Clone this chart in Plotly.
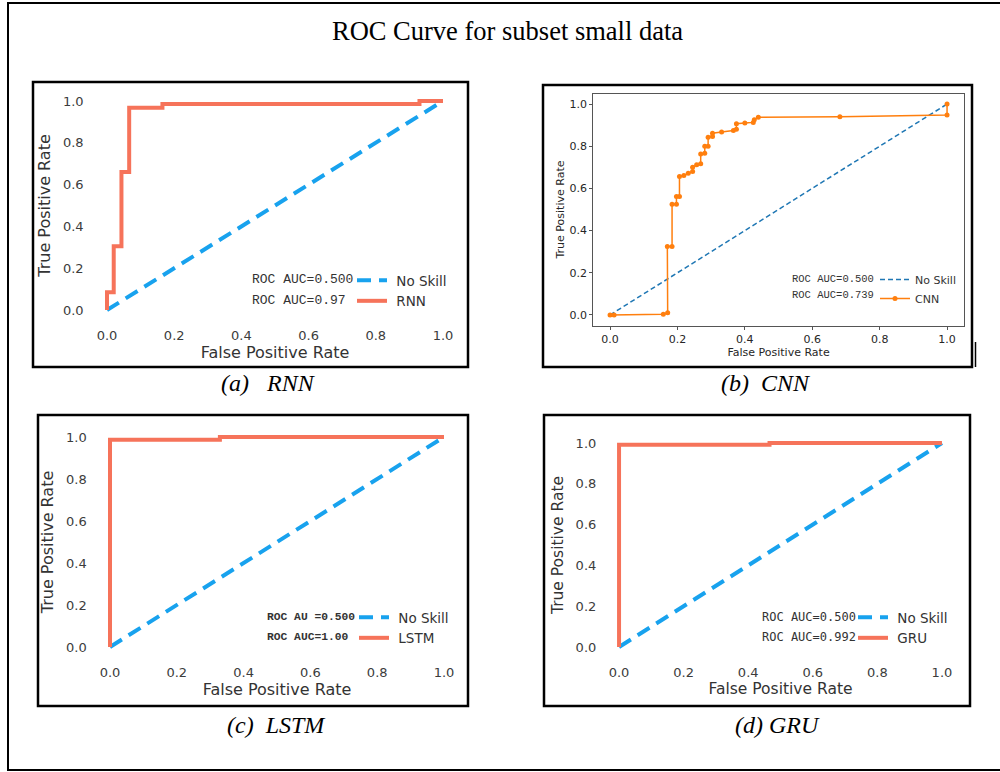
import plotly.graph_objects as go

# ---------------- data ----------------
noskill_fpr = [0.0, 1.0]
noskill_tpr = [0.0, 1.0]

rnn_fpr = [0.0, 0.0, 0.02, 0.02, 0.043, 0.043, 0.066, 0.066, 0.165, 0.165, 0.93, 0.93, 1.0]
rnn_tpr = [0.0, 0.085, 0.085, 0.305, 0.305, 0.66, 0.66, 0.968, 0.968, 0.985, 0.985, 1.0, 1.0]

cnn_fpr = [0.0, 0.012, 0.158, 0.171, 0.170, 0.184, 0.184, 0.197, 0.197, 0.206, 0.206, 0.219,
           0.232, 0.245, 0.245, 0.257, 0.269, 0.269, 0.281, 0.281, 0.291, 0.291, 0.304, 0.304,
           0.331, 0.366, 0.375, 0.375, 0.400, 0.425, 0.428, 0.440, 0.682, 1.0, 1.0]
cnn_tpr = [0.0, 0.0, 0.003, 0.011, 0.324, 0.324, 0.525, 0.525, 0.562, 0.562, 0.657, 0.661,
           0.672, 0.680, 0.700, 0.712, 0.717, 0.763, 0.767, 0.800, 0.800, 0.843, 0.846, 0.862,
           0.867, 0.875, 0.881, 0.907, 0.910, 0.913, 0.926, 0.937, 0.940, 0.948, 1.0]

lstm_fpr = [0.0, 0.0, 0.329, 0.329, 1.0]
lstm_tpr = [0.0, 0.987, 0.987, 1.0, 1.0]

gru_fpr = [0.0, 0.0, 0.466, 0.466, 1.0]
gru_tpr = [0.0, 0.992, 0.992, 1.0, 1.0]

tick_vals = [0.0, 0.2, 0.4, 0.6, 0.8, 1.0]
tick_text = ["0.0", "0.2", "0.4", "0.6", "0.8", "1.0"]

model_names = ["RNN", "CNN", "LSTM", "GRU"]
noskill_auc_labels = ["ROC AUC=0.500", "ROC AUC=0.500", "ROC AU =0.500", "ROC AUC=0.500"]
model_auc_labels = ["ROC AUC=0.97", "ROC AUC=0.739", "ROC AUC=1.00", "ROC AUC=0.992"]
captions = ["(a)\u00a0\u00a0\u00a0RNN", "(b)\u00a0\u00a0CNN", "(c)\u00a0\u00a0LSTM", "(d)\u00a0GRU"]
title_text = "ROC Curve for subset small data"

# ---------------- helpers ----------------
W, H = 1000, 772
def px(x):
    return x / W
def py(y):
    return 1 - y / H

SALMON = "#F6735A"
SKY = "#18A2EE"
SANS = "DejaVu Sans"
NB = "\u00a0"

fig = go.Figure()

# panel (a) RNN
fig.add_trace(go.Scatter(x=noskill_fpr, y=noskill_tpr, mode="lines", name=NB + "No Skill",
                         line=dict(color=SKY, width=4, dash="14px,8px"),
                         xaxis="x", yaxis="y", legend="legend"))
fig.add_trace(go.Scatter(x=rnn_fpr, y=rnn_tpr, mode="lines", name=NB + model_names[0],
                         line=dict(color=SALMON, width=4),
                         xaxis="x", yaxis="y", legend="legend"))
# panel (b) CNN
fig.add_trace(go.Scatter(x=noskill_fpr, y=noskill_tpr, mode="lines", name="No Skill",
                         line=dict(color="#1f77b4", width=1.5, dash="5px,3px"),
                         xaxis="x2", yaxis="y2", legend="legend2"))
fig.add_trace(go.Scatter(x=cnn_fpr, y=cnn_tpr, mode="lines+markers", name=model_names[1],
                         line=dict(color="#ff7f0e", width=1.5),
                         marker=dict(color="#ff7f0e", size=5),
                         xaxis="x2", yaxis="y2", legend="legend2"))
# panel (c) LSTM
fig.add_trace(go.Scatter(x=noskill_fpr, y=noskill_tpr, mode="lines", name=NB + "No Skill",
                         line=dict(color=SKY, width=4, dash="14px,8px"),
                         xaxis="x3", yaxis="y3", legend="legend3"))
fig.add_trace(go.Scatter(x=lstm_fpr, y=lstm_tpr, mode="lines", name=NB + model_names[2],
                         line=dict(color=SALMON, width=4),
                         xaxis="x3", yaxis="y3", legend="legend3"))
# panel (d) GRU
fig.add_trace(go.Scatter(x=noskill_fpr, y=noskill_tpr, mode="lines", name=NB + "No Skill",
                         line=dict(color=SKY, width=4, dash="14px,8px"),
                         xaxis="x4", yaxis="y4", legend="legend4"))
fig.add_trace(go.Scatter(x=gru_fpr, y=gru_tpr, mode="lines", name=NB + model_names[3],
                         line=dict(color=SALMON, width=4),
                         xaxis="x4", yaxis="y4", legend="legend4"))

# ---------------- axes ----------------
def sb_axis(domain, anchor, title, fsize=13, tsize=16, standoff=4):
    return dict(domain=domain, anchor=anchor, range=[-0.05, 1.05],
                tickvals=tick_vals, ticktext=tick_text,
                tickfont=dict(family=SANS, size=fsize, color="#3c3c3c"),
                title=dict(text=title, font=dict(family=SANS, size=tsize, color="#333333"),
                           standoff=standoff),
                showgrid=False, zeroline=False, showline=False,
                ticks="outside", ticklen=3, tickcolor="rgba(0,0,0,0)", fixedrange=True)

def mpl_axis(domain, anchor, title):
    return dict(domain=domain, anchor=anchor, range=[-0.05, 1.05],
                tickvals=tick_vals, ticktext=tick_text,
                tickfont=dict(family=SANS, size=11, color="#262626"),
                title=dict(text=title, font=dict(family=SANS, size=11, color="#262626"),
                           standoff=2),
                showgrid=False, zeroline=False, showline=True, mirror=True,
                linecolor="#555555", linewidth=1,
                ticks="outside", ticklen=3, tickcolor="#555555", fixedrange=True)

layout = dict(
    width=W, height=H, margin=dict(l=0, r=0, t=0, b=0),
    paper_bgcolor="white", plot_bgcolor="white", showlegend=True,
    xaxis=sb_axis([px(90.2), px(459.8)], "y", "False Positive Rate"),
    yaxis=sb_axis([py(320.5), py(90.5)], "x", "True Positive Rate", standoff=8),
    xaxis2=mpl_axis([px(593.2), px(963.9)], "y2", "False Positive Rate"),
    yaxis2=mpl_axis([py(325.5), py(93.5)], "x2", "True Positive Rate"),
    xaxis3=sb_axis([px(93.3), px(460.7)], "y3", "False Positive Rate"),
    yaxis3=sb_axis([py(657.5), py(426.5)], "x3", "True Positive Rate", standoff=8),
    xaxis4=sb_axis([px(602.9), px(958.1)], "y4", "False Positive Rate", tsize=15.5),
    yaxis4=sb_axis([py(657.2), py(432.8)], "x4", "True Positive Rate", tsize=15.5, standoff=8),
)

def leg(x_line_start, y_top, size, gap=0):
    return dict(x=px(x_line_start - 5), y=py(y_top), xanchor="left", yanchor="top",
                bgcolor="rgba(0,0,0,0)", borderwidth=0,
                font=dict(family=SANS, size=size, color="#333333"),
                tracegroupgap=gap, itemclick=False, itemdoubleclick=False)

layout["legend"] = leg(357, 265, 13.5)
layout["legend2"] = leg(880, 265, 11)
layout["legend3"] = leg(359, 602, 13.5)
layout["legend4"] = leg(858, 602, 13.5)

fig.update_layout(**layout)

# ---------------- annotations ----------------
ann = []
ann.append(dict(text=title_text, x=px(507), y=py(31), xref="paper", yref="paper",
                showarrow=False, xanchor="center", yanchor="middle",
                font=dict(family="Liberation Serif", size=26.5, color="black")))

cap_pos = [(268, 383), (766, 383), (276, 725), (777, 725)]
for c, (cx, cy) in zip(captions, cap_pos):
    ann.append(dict(text="<i>" + c + "</i>", x=px(cx), y=py(cy), xref="paper", yref="paper",
                    showarrow=False, xanchor="center", yanchor="middle",
                    font=dict(family="Liberation Serif", size=24, color="black")))

# legend-side AUC texts
auc_specs = [
    (250, 280, 300, "Liberation Mono", 13, False),
    (790, 279, 295, "Liberation Mono", 10.5, False),
    (265, 617, 637, "Liberation Mono", 11.3, True),
    (760, 617, 637, "DejaVu Sans Mono", 12, False),
]
for i, (x0, y1, y2, fam, fs, bold) in enumerate(auc_specs):
    for txt, yy in ((noskill_auc_labels[i], y1), (model_auc_labels[i], y2)):
        t = "<b>" + txt + "</b>" if bold else txt
        ann.append(dict(text=t, x=px(x0), y=py(yy), xref="paper", yref="paper",
                        showarrow=False, xanchor="left", yanchor="middle",
                        font=dict(family=fam, size=fs, color="#333333")))

fig.update_layout(annotations=ann)

# ---------------- frames ----------------
shapes = []
def rect(x0, y0, x1, y1, w=2, color="black"):
    shapes.append(dict(type="rect", xref="paper", yref="paper",
                       x0=px(x0), x1=px(x1), y0=py(y1), y1=py(y0),
                       line=dict(color=color, width=w), fillcolor="rgba(0,0,0,0)", layer="above"))

rect(8, 3, 1010, 770, w=2)          # outer frame (right edge outside picture)
rect(33, 82, 468, 367, w=2.5)       # (a)
rect(543, 85, 972, 367, w=2.5)      # (b)
rect(38, 415, 468, 706, w=2.5)      # (c)
rect(544, 415, 970, 706, w=2.5)     # (d)
shapes.append(dict(type="line", xref="paper", yref="paper",
                   x0=px(975.5), x1=px(975.5), y0=py(367), y1=py(342),
                   line=dict(color="black", width=1.5)))
fig.update_layout(shapes=shapes)

fig.write_html("out.html")
